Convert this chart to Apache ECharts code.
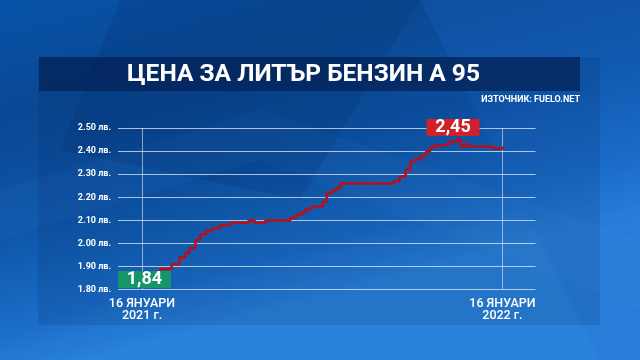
<!DOCTYPE html>
<html>
<head>
<meta charset="utf-8">
<script src="https://cdn.jsdelivr.net/npm/echarts@6/dist/echarts.min.js"></script>
<style>
html,body{margin:0;padding:0;background:#0d55a8;}
#c{width:640px;height:360px;}
</style>
</head>
<body>
<div id="c"></div>
<script>
// Data: days since 16 Jan 2021, price in лв. (step changes)
var days = [0, 5, 9, 13, 16, 19, 24, 30, 38, 44, 48, 54, 59, 65, 71, 79, 90, 108, 114, 125, 150, 156, 162, 166, 172, 183, 187, 193, 197, 201, 255, 261, 267, 272, 276, 282, 288, 292, 296, 305, 311, 319, 323, 327, 331, 356, 365];
var prices = [1.84, 1.85, 1.86, 1.87, 1.88, 1.89, 1.89, 1.91, 1.94, 1.96, 1.98, 2.015, 2.04, 2.055, 2.065, 2.08, 2.09, 2.10, 2.09, 2.10, 2.11, 2.125, 2.135, 2.15, 2.16, 2.18, 2.22, 2.23, 2.24, 2.26, 2.27, 2.29, 2.32, 2.355, 2.365, 2.38, 2.40, 2.415, 2.425, 2.43, 2.44, 2.45, 2.42, 2.43, 2.42, 2.41, 2.42];
var yTicks = [1.80, 1.90, 2.00, 2.10, 2.20, 2.30, 2.40, 2.50];
var xTickDays = [0, 365];
var xTickLabels = ['16 ЯНУАРИ\n2021 г.', '16 ЯНУАРИ\n2022 г.'];
var title = 'ЦЕНА ЗА ЛИТЪР БЕНЗИН А 95';
var source = 'ИЗТОЧНИК: FUELO.NET';
var startLabel = '1,84';
var peakLabel = '2,45';
var peakDay = 315;
var peakValue = 2.45;

var seriesData = days.map(function (d, i) { return [d, prices[i]]; });

var chart = echarts.init(document.getElementById('c'), null, {renderer: 'canvas'});
var F = 'Roboto, "Liberation Sans", sans-serif';

chart.setOption({
  animation: false,
  backgroundColor: {
    type: 'linear', x: 0, y: 0, x2: 0.15, y2: 1,
    colorStops: [
      {offset: 0, color: '#0753a9'},
      {offset: 0.3, color: '#0a4893'},
      {offset: 0.6, color: '#0d55a8'},
      {offset: 0.85, color: '#1a6cc6'},
      {offset: 1, color: '#2a82da'}
    ]
  },
  graphic: [
    {type: 'polygon', silent: true, z: -10, shape: {points: [[420, 0], [640, 0], [640, 360], [600, 360]]},
      style: {fill: 'rgba(30,110,210,0.22)'}},
    {type: 'polygon', silent: true, z: -10, shape: {points: [[0, 190], [260, 110], [640, 240], [640, 310], [260, 160], [0, 240]]},
      style: {fill: 'rgba(80,160,240,0.07)'}},
    {type: 'polygon', silent: true, z: -10, shape: {points: [[120, 0], [420, 0], [300, 200], [60, 150]]},
      style: {fill: 'rgba(0,25,70,0.12)'}},
    {type: 'rect', silent: true, z: -5, shape: {x: 38, y: 57, width: 562, height: 268},
      style: {fill: 'rgba(0,25,70,0.12)'}},
    {type: 'rect', silent: true, z: -4, shape: {x: 39, y: 57, width: 541, height: 34},
      style: {fill: 'rgba(4,36,88,0.78)'}},
    {type: 'text', silent: true, z: 10, x: 303.5, y: 74.5,
      style: {text: title, fill: '#ffffff', font: 'bold 24.5px ' + F, align: 'center', verticalAlign: 'middle'}},
    {type: 'text', silent: true, z: 10, x: 580, y: 100,
      style: {text: source, fill: '#ffffff', font: 'bold 9px ' + F, align: 'right', verticalAlign: 'middle'}}
  ],
  grid: {left: 118, right: 104.5, top: 128, bottom: 70.3, containLabel: false},
  xAxis: {
    type: 'value', min: -24.3, max: 398.5,
    axisLine: {show: false}, axisTick: {show: false}, splitLine: {show: false},
    axisLabel: {
      customValues: xTickDays,
      formatter: function (v) { var i = xTickDays.indexOf(v); return i >= 0 ? xTickLabels[i] : ''; },
      color: '#ffffff', fontFamily: F, fontSize: 12.5, fontWeight: 500, lineHeight: 12, margin: 8
    }
  },
  yAxis: {
    type: 'value', min: 1.8, max: 2.5, interval: 0.1,
    axisLine: {show: false}, axisTick: {show: false},
    splitLine: {lineStyle: {color: 'rgba(225,235,250,0.75)', width: 1.2}},
    axisLabel: {
      formatter: function (v) { return v.toFixed(2) + ' лв.'; },
      color: '#ffffff', fontFamily: F, fontSize: 9, fontWeight: 'bold', margin: 7
    }
  },
  series: [{
    type: 'line',
    data: seriesData,
    step: 'end',
    showSymbol: false,
    lineStyle: {color: '#b3121c', width: 2.6},
    z: 5,
    markLine: {
      silent: true, symbol: ['none', 'none'],
      label: {show: false},
      lineStyle: {color: 'rgba(225,235,250,0.6)', width: 1, type: 'solid'},
      data: xTickDays.map(function (d) { return {xAxis: d}; })
    }
  }, {
    type: 'scatter',
    z: 20,
    silent: true,
    symbol: 'rect',
    symbolSize: [53, 17],
    data: [
      {value: [days[0], prices[0]], symbolOffset: [2.5, -1], itemStyle: {color: '#16956a', opacity: 1},
        label: {show: true, position: 'inside', formatter: startLabel, color: '#fff', fontFamily: F, fontWeight: 'bold', fontSize: 18}},
      {value: [peakDay, peakValue], symbolOffset: [0, -12], itemStyle: {color: '#d0202b', opacity: 1},
        label: {show: true, position: 'inside', formatter: peakLabel, color: '#fff', fontFamily: F, fontWeight: 'bold', fontSize: 18}}
    ]
  }]
});
</script>
</body>
</html>
